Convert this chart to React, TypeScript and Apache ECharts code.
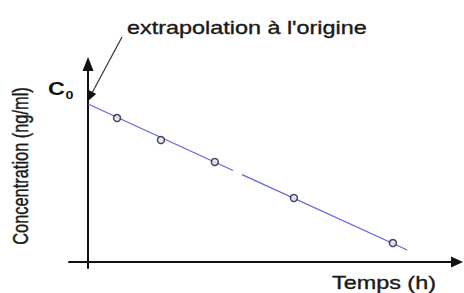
import React, { useEffect, useRef } from "react";
import * as echarts from "echarts";

// Measured data (time in hours, concentration in ng/ml)
const timesH = [0.99, 2.49, 4.33, 7.03, 10.41];
const concentrations = [91.1, 77.2, 63.3, 40.5, 12.0];
// Fitted regression line, drawn in two pieces (small gap in the reference)
const fitSegmentA = [
  [0, 100],
  [4.95, 57.9],
];
const fitSegmentB = [
  [5.26, 55.3],
  [10.9, 7.6],
];
const xRange = [-0.65, 12.6];
const yRange = [-3.8, 125.3];

const annotationText = "extrapolation à l'origine";
const xAxisTitle = "Temps (h)";
const yAxisTitle = "Concentration (ng/ml)";
const c0Main = "C";
const c0Sub = "0";

export default function App() {
  const ref = useRef<HTMLDivElement>(null);

  useEffect(() => {
    if (!ref.current) return;
    const chart = echarts.init(ref.current, undefined, { renderer: "svg" });
    const font = "'Liberation Sans', Arial, sans-serif";
    const ax = { color: "#111", width: 2 };
    const txt = { fill: "#1a1a1a", stroke: "#1a1a1a", lineWidth: 0.35 };

    const option: any = {
      animation: false,
      backgroundColor: "#ffffff",
      grid: { left: 69, right: 7, top: 64, bottom: 25, containLabel: false },
      xAxis: {
        type: "value",
        min: xRange[0],
        max: xRange[1],
        axisLine: {
          show: true,
          onZero: true,
          lineStyle: ax,
          symbol: ["none", "triangle"],
          symbolSize: [11, 12],
        },
        axisTick: { show: false },
        axisLabel: { show: false },
        splitLine: { show: false },
      },
      yAxis: {
        type: "value",
        min: yRange[0],
        max: yRange[1],
        axisLine: {
          show: true,
          onZero: true,
          lineStyle: ax,
          symbol: ["none", "triangle"],
          symbolSize: [11, 14],
        },
        axisTick: { show: false },
        axisLabel: { show: false },
        splitLine: { show: false },
      },
      series: [
        {
          type: "line",
          data: fitSegmentA,
          symbol: "none",
          lineStyle: { color: "#6464dc", width: 1.2 },
          silent: true,
        },
        {
          type: "line",
          data: fitSegmentB,
          symbol: "none",
          lineStyle: { color: "#6464dc", width: 1.2 },
          silent: true,
        },
        {
          type: "scatter",
          data: timesH.map((t, i) => [t, concentrations[i]]),
          symbol: "circle",
          symbolSize: 7,
          itemStyle: { color: "#e6e6ee", borderColor: "#1c1c3a", borderWidth: 1.5 },
          z: 5,
        },
      ],
      graphic: [
        {
          type: "text",
          x: 127,
          y: 28,
          scaleX: 1.3,
          z: 100,
          style: {
            ...txt,
            text: annotationText,
            font: `18px ${font}`,
            textAlign: "left",
            textVerticalAlign: "middle",
          },
        },
        {
          type: "line",
          z: 100,
          shape: { x1: 122, y1: 37, x2: 92, y2: 93 },
          style: { stroke: "#333", lineWidth: 1.2 },
        },
        {
          type: "polygon",
          z: 100,
          shape: {
            points: [
              [88, 101],
              [96.2, 94.1],
              [89.2, 90.3],
            ],
          },
          style: { fill: "#111" },
        },
        {
          type: "text",
          x: 332,
          y: 282.5,
          scaleX: 1.3,
          z: 100,
          style: {
            ...txt,
            text: xAxisTitle,
            font: `18px ${font}`,
            textAlign: "left",
            textVerticalAlign: "middle",
          },
        },
        {
          type: "text",
          x: 21,
          y: 166,
          rotation: Math.PI / 2,
          scaleY: 1.3,
          z: 100,
          style: {
            ...txt,
            text: yAxisTitle,
            font: `16.4px ${font}`,
            textAlign: "center",
            textVerticalAlign: "middle",
          },
        },
        {
          type: "text",
          x: 48,
          y: 88.5,
          scaleX: 1.3,
          z: 100,
          style: {
            text: c0Main,
            font: `bold 18px ${font}`,
            fill: "#111",
            textAlign: "left",
            textVerticalAlign: "middle",
          },
        },
        {
          type: "text",
          x: 65.5,
          y: 95,
          scaleX: 1.3,
          z: 100,
          style: {
            text: c0Sub,
            font: `bold 11px ${font}`,
            fill: "#111",
            textAlign: "left",
            textVerticalAlign: "middle",
          },
        },
      ],
    };

    chart.setOption(option);
    return () => chart.dispose();
  }, []);

  return (
    <div
      ref={ref}
      style={{ position: "fixed", left: 0, top: 0, width: 464, height: 293, background: "#fff" }}
    />
  );
}
